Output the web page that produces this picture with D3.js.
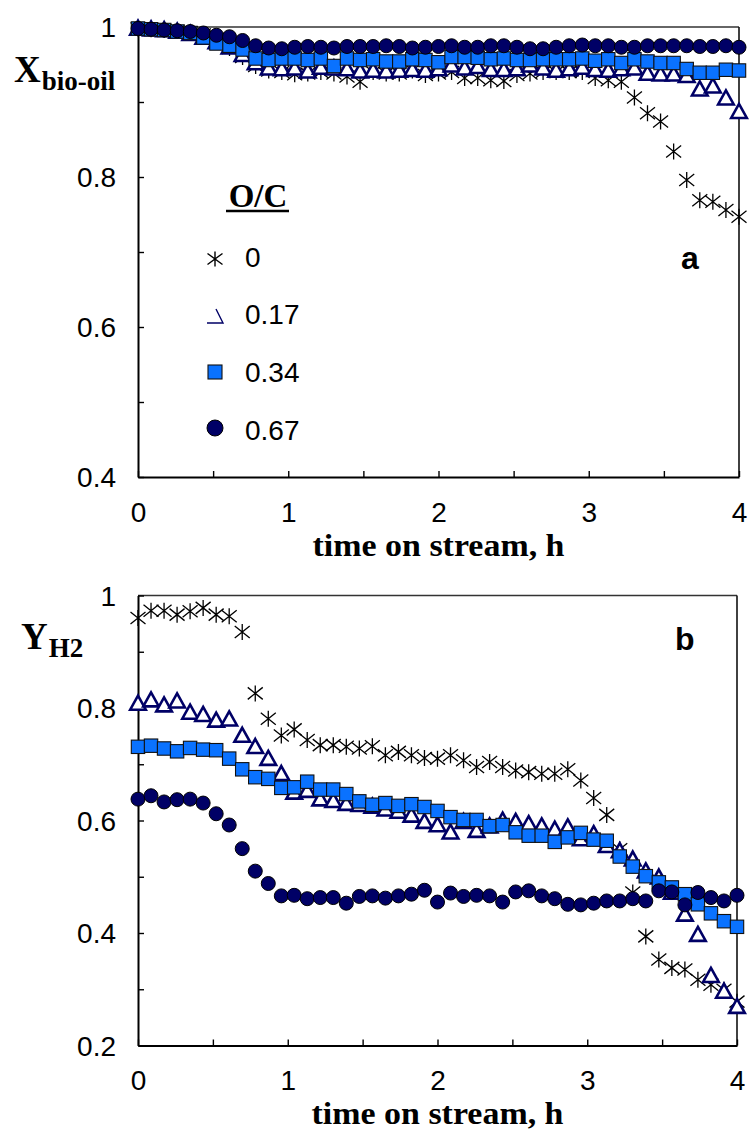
<!DOCTYPE html>
<html>
<head>
<meta charset="utf-8">
<script src="https://cdn.jsdelivr.net/npm/d3@7"></script>
<style>
  html, body { margin: 0; padding: 0; background: #fff; }
  svg { display: block; }
</style>
</head>
<body>
<svg id="chart" width="750" height="1133"></svg>
<script>
// ---------------- DATA ----------------
const time = [0, 0.087, 0.174, 0.261, 0.348, 0.435, 0.522, 0.609, 0.696, 0.783, 0.870, 0.957,
  1.043, 1.130, 1.217, 1.304, 1.391, 1.478, 1.565, 1.652, 1.739, 1.826, 1.913, 2.000,
  2.087, 2.174, 2.261, 2.348, 2.435, 2.522, 2.609, 2.696, 2.783, 2.870, 2.957,
  3.043, 3.130, 3.217, 3.304, 3.391, 3.478, 3.565, 3.652, 3.739, 3.826, 3.913, 4.000];

const seriesNames = ["0", "0.17", "0.34", "0.67"];

// Panel a: bio-oil conversion
const xBio_0 = [0.998, 0.997, 0.996, 0.995, 0.993, 0.990, 0.984, 0.972, 0.960, 0.948, 0.942, 0.940,
  0.937, 0.938, 0.940, 0.938, 0.934, 0.927, 0.940, 0.938, 0.938, 0.942, 0.936, 0.938,
  0.940, 0.932, 0.932, 0.929, 0.928, 0.936, 0.938, 0.940, 0.940, 0.940, 0.940,
  0.932, 0.929, 0.927, 0.906, 0.885, 0.874, 0.834, 0.796, 0.769, 0.767, 0.756, 0.747];
const xBio_017 = [0.998, 0.997, 0.996, 0.994, 0.991, 0.986, 0.980, 0.973, 0.963, 0.952, 0.945, 0.944,
  0.945, 0.941, 0.946, 0.945, 0.944, 0.941, 0.942, 0.941, 0.942, 0.943, 0.942, 0.944,
  0.949, 0.945, 0.947, 0.943, 0.943, 0.944, 0.949, 0.945, 0.942, 0.944, 0.946,
  0.943, 0.942, 0.944, 0.945, 0.938, 0.937, 0.937, 0.935, 0.917, 0.921, 0.905, 0.887];
const xBio_034 = [0.998, 0.997, 0.996, 0.994, 0.992, 0.986, 0.978, 0.975, 0.970, 0.958, 0.956, 0.958,
  0.958, 0.956, 0.958, 0.948, 0.958, 0.956, 0.957, 0.954, 0.954, 0.957, 0.956, 0.953,
  0.960, 0.960, 0.959, 0.957, 0.958, 0.956, 0.956, 0.957, 0.957, 0.957, 0.958,
  0.955, 0.957, 0.952, 0.957, 0.954, 0.952, 0.952, 0.944, 0.939, 0.939, 0.943, 0.942];
const xBio_067 = [0.998, 0.997, 0.996, 0.995, 0.994, 0.992, 0.989, 0.987, 0.982, 0.975, 0.972, 0.971,
  0.973, 0.974, 0.973, 0.972, 0.974, 0.974, 0.974, 0.975, 0.974, 0.972, 0.973, 0.974,
  0.975, 0.973, 0.973, 0.975, 0.975, 0.973, 0.971, 0.971, 0.973, 0.975, 0.976,
  0.975, 0.975, 0.973, 0.973, 0.975, 0.975, 0.975, 0.975, 0.974, 0.974, 0.975, 0.973];

// Panel b: H2 yield
const yH2_0 = [0.960, 0.973, 0.973, 0.966, 0.972, 0.978, 0.966, 0.963, 0.935, 0.826, 0.781, 0.751,
  0.762, 0.743, 0.734, 0.734, 0.731, 0.728, 0.732, 0.716, 0.722, 0.716, 0.711, 0.710,
  0.716, 0.707, 0.695, 0.704, 0.695, 0.689, 0.686, 0.683, 0.683, 0.691, 0.671,
  0.640, 0.610, 0.549, 0.472, 0.394, 0.353, 0.338, 0.335, 0.317, 0.308, 0.299, 0.278];
const yH2_017 = [0.808, 0.814, 0.805, 0.812, 0.792, 0.788, 0.778, 0.780, 0.751, 0.731, 0.710, 0.683,
  0.650, 0.653, 0.638, 0.635, 0.630, 0.628, 0.625, 0.620, 0.616, 0.609, 0.598, 0.592,
  0.579, 0.598, 0.582, 0.590, 0.600, 0.598, 0.594, 0.590, 0.584, 0.588, 0.567,
  0.576, 0.555, 0.546, 0.531, 0.510, 0.499, 0.472, 0.433, 0.397, 0.324, 0.296, 0.269];
const yH2_034 = [0.731, 0.733, 0.728, 0.723, 0.729, 0.726, 0.725, 0.710, 0.691, 0.677, 0.674, 0.658,
  0.659, 0.669, 0.655, 0.655, 0.647, 0.634, 0.628, 0.631, 0.626, 0.629, 0.624, 0.617,
  0.606, 0.601, 0.601, 0.590, 0.592, 0.579, 0.573, 0.573, 0.562, 0.570, 0.578,
  0.566, 0.564, 0.536, 0.518, 0.501, 0.490, 0.481, 0.469, 0.451, 0.435, 0.421, 0.411];
const yH2_067 = [0.638, 0.644, 0.633, 0.637, 0.638, 0.631, 0.612, 0.592, 0.550, 0.510, 0.488, 0.466,
  0.467, 0.461, 0.463, 0.463, 0.453, 0.465, 0.466, 0.462, 0.466, 0.469, 0.476, 0.455,
  0.471, 0.465, 0.467, 0.466, 0.455, 0.473, 0.475, 0.466, 0.461, 0.451, 0.450,
  0.453, 0.457, 0.457, 0.461, 0.457, 0.475, 0.473, 0.450, 0.472, 0.463, 0.457, 0.467];

const xTicks = [0, 0.5, 1, 1.5, 2, 2.5, 3, 3.5, 4];
const yTicksA = [0.4, 0.5, 0.6, 0.7, 0.8, 0.9, 1];
const yTicksB = [0.2, 0.3, 0.4, 0.5, 0.6, 0.7, 0.8, 0.9, 1];
const xTitle = "time on stream, h";

// ---------------- STYLE ----------------
const SANS = "'Liberation Sans', Arial, sans-serif";
const SERIF = "'Liberation Serif', 'Times New Roman', serif";
const NAVY = "#000066";
const BLUE = "#0a72ff";

const svg = d3.select("#chart");

const markers = {
  star: g => g.append("path").attr("d", "M0,-8V8M-7.5,-6L7.5,6M-7.5,6L7.5,-6")
      .attr("fill", "none").attr("stroke", "#000").attr("stroke-width", 1.3),
  tri: g => g.append("path").attr("d", "M0,-7.8L7.8,6.2L-7.8,6.2Z")
      .attr("fill", "#fff").attr("stroke", NAVY).attr("stroke-width", 2.6).attr("stroke-linejoin", "miter"),
  sq: g => g.append("rect").attr("x", -6.7).attr("y", -6.7).attr("width", 13.4).attr("height", 13.4)
      .attr("fill", BLUE).attr("stroke", "#111").attr("stroke-width", 1.1),
  circ: g => g.append("circle").attr("r", 7)
      .attr("fill", NAVY).attr("stroke", "#000").attr("stroke-width", 1)
};

function panel(cfg) {
  const x = d3.scaleLinear().domain([0, 4]).range([cfg.x0, cfg.x1]);
  const y = d3.scaleLinear().domain(cfg.yDomain).range([cfg.yBottom, cfg.yTop]);
  const g = svg.append("g");

  // frame: top & right
  g.append("line").attr("x1", cfg.x0).attr("x2", cfg.x1).attr("y1", cfg.yTop).attr("y2", cfg.yTop)
    .attr("stroke", "#333").attr("stroke-width", 1.6);
  g.append("line").attr("x1", cfg.x1).attr("x2", cfg.x1).attr("y1", cfg.yTop).attr("y2", cfg.yBottom)
    .attr("stroke", "#111").attr("stroke-width", 1.6);

  // y axis
  const majorY = v => Math.round(v * 10) % 2 === 0;
  const yAxis = d3.axisLeft(y).tickValues(cfg.yTicks).tickSizeInner(-6).tickSizeOuter(0).tickPadding(22)
    .tickFormat(v => majorY(v) ? String(+v.toFixed(1)) : "");
  const ya = g.append("g").attr("transform", `translate(${cfg.x0},0)`).call(yAxis);
  ya.select(".domain").attr("stroke", "#000").attr("stroke-width", 2);
  ya.selectAll(".tick line").attr("stroke", "#000").attr("stroke-width", 1.4);
  ya.selectAll(".tick text").attr("font-family", SANS).attr("font-size", 28).attr("fill", "#000")
    .attr("dy", "0.35em");

  // x axis
  const xAxis = d3.axisBottom(x).tickValues(xTicks).tickSizeInner(-6).tickSizeOuter(0).tickPadding(0)
    .tickFormat(v => Number.isInteger(v) ? String(v) : "");
  const xa = g.append("g").attr("transform", `translate(0,${cfg.yBottom})`).call(xAxis);
  xa.select(".domain").attr("stroke", "#000").attr("stroke-width", 2);
  xa.selectAll(".tick line").attr("stroke", "#000").attr("stroke-width", 1.4);
  xa.selectAll(".tick text").attr("font-family", SANS).attr("font-size", 28).attr("fill", "#000")
    .attr("y", cfg.xLabOff).attr("dy", 0);

  // x title
  g.append("text").attr("x", (cfg.x0 + cfg.x1) / 2).attr("y", cfg.yBottom + cfg.titleOff)
    .attr("text-anchor", "middle").attr("font-family", SERIF).attr("font-weight", "bold")
    .attr("font-size", 31).attr("textLength", 252).attr("lengthAdjust", "spacingAndGlyphs")
    .text(xTitle);

  // series
  cfg.series.forEach(s => {
    const pts = g.append("g").selectAll("g").data(s.values).join("g")
      .attr("transform", (d, i) => `translate(${x(time[i])},${y(d)})`);
    pts.each(function () { markers[s.marker](d3.select(this)); });
  });

  // panel letter
  g.append("text").attr("x", cfg.letterX).attr("y", cfg.letterY)
    .attr("font-family", SANS).attr("font-weight", "bold").attr("font-size", 32).text(cfg.letter);

  // y title
  const t = g.append("text").attr("font-family", SERIF).attr("font-weight", "bold");
  t.append("tspan").attr("x", cfg.ylabX).attr("y", cfg.ylabY).attr("font-size", 37).text(cfg.ylabMain);
  t.append("tspan").attr("y", cfg.ylabY + 8).attr("font-size", 27).attr("dx", 1).text(cfg.ylabSub);
  return { x, y, g };
}

panel({
  x0: 138, x1: 739, yTop: 27, yBottom: 477, yDomain: [0.4, 1], yTicks: yTicksA,
  xLabOff: 45, titleOff: 79,
  series: [
    { values: xBio_0, marker: "star" },
    { values: xBio_017, marker: "tri" },
    { values: xBio_034, marker: "sq" },
    { values: xBio_067, marker: "circ" }
  ],
  letter: "a", letterX: 681, letterY: 269,
  ylabMain: "X", ylabSub: "bio-oil", ylabX: 14, ylabY: 82
});

panel({
  x0: 138, x1: 737, yTop: 595.5, yBottom: 1045.5, yDomain: [0.2, 1], yTicks: yTicksB,
  xLabOff: 44, titleOff: 78,
  series: [
    { values: yH2_0, marker: "star" },
    { values: yH2_017, marker: "tri" },
    { values: yH2_034, marker: "sq" },
    { values: yH2_067, marker: "circ" }
  ],
  letter: "b", letterX: 675, letterY: 650,
  ylabMain: "Y", ylabSub: "H2", ylabX: 21, ylabY: 649
});

// ---------------- LEGEND ----------------
const leg = svg.append("g");
leg.append("text").attr("x", 258).attr("y", 207).attr("text-anchor", "middle")
  .attr("font-family", SERIF).attr("font-weight", "bold").attr("font-size", 33).text("O/C");
leg.append("line").attr("x1", 226).attr("x2", 289).attr("y1", 211).attr("y2", 211)
  .attr("stroke", "#000").attr("stroke-width", 2.5);

const legRows = [
  { name: seriesNames[0], cy: 259, baseline: 267 },
  { name: seriesNames[1], cy: 316, baseline: 324 },
  { name: seriesNames[2], cy: 372, baseline: 382 },
  { name: seriesNames[3], cy: 428, baseline: 440 }
];
legRows.forEach((r, i) => {
  const m = leg.append("g").attr("transform", `translate(215,${r.cy})`);
  if (i === 0) {
    m.append("path").attr("d", "M0,-7.5V7.5M-7.5,-5.5L7.5,5.5M-7.5,5.5L7.5,-5.5").attr("fill", "none")
      .attr("stroke", "#000").attr("stroke-width", 1.4);
  } else if (i === 1) {
    m.append("path").attr("d", "M1,-7L8,7L-8,7").attr("fill", "none")
      .attr("stroke", NAVY).attr("stroke-width", 1.4);
  } else if (i === 2) {
    m.append("rect").attr("x", -7).attr("y", -7).attr("width", 14).attr("height", 14)
      .attr("fill", BLUE).attr("stroke", "#111").attr("stroke-width", 1.1);
  } else {
    m.append("circle").attr("r", 8).attr("fill", NAVY).attr("stroke", "#000").attr("stroke-width", 1);
  }
  leg.append("text").attr("x", 245).attr("y", r.baseline).attr("font-family", SANS)
    .attr("font-size", 28).text(r.name);
});
</script>
</body>
</html>
